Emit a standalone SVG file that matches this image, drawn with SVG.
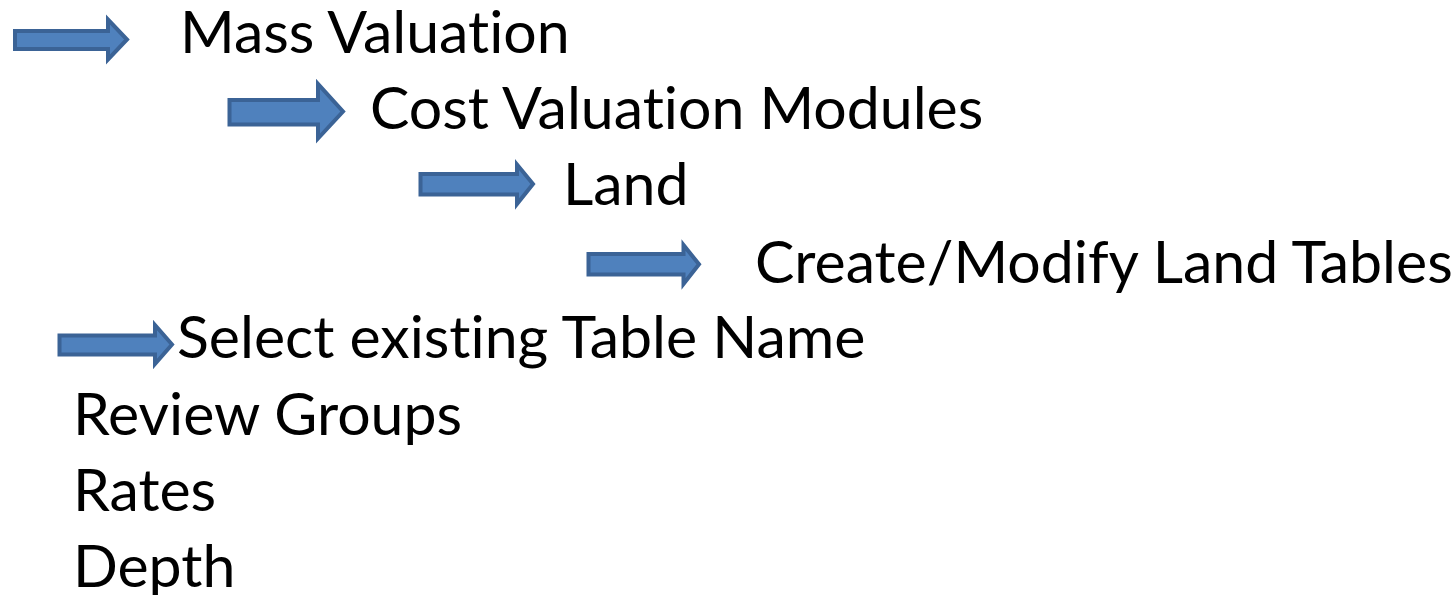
<svg xmlns="http://www.w3.org/2000/svg" width="1456" height="595" viewBox="0 0 1456 595">
<style>
.arrow{fill:#4F81BD;stroke:#3B6396;stroke-width:4;stroke-linejoin:miter}
.t{font-family:Lato,"Liberation Sans",sans-serif;font-size:59px;fill:#000;font-variant-ligatures:none}
</style>
<rect width="1456" height="595" fill="#fff"/>
<g id="connectors">
<path class="arrow" d="M15,31 H108 V19.5 L127,39.5 L108,59.5 V49 H15 Z"/>
<path class="arrow" d="M229.5,100 H318 V84 L343,111.5 L318,138.5 V124.5 H229.5 Z"/>
<path class="arrow" d="M420.5,174 H517 V164.5 L533,184 L517,204 V194.5 H420.5 Z"/>
<path class="arrow" d="M588.5,254 H683.5 V245 L699,264.3 L683.5,284 V274.5 H588.5 Z"/>
<path class="arrow" d="M59.5,335.5 H155 V325 L172,344.5 L155,364 V354.5 H59.5 Z"/>
</g>
<g id="n1"><text class="t" x="180" y="53">Mass Valuation</text></g>
<g id="n2"><text class="t" x="370" y="129">Cost Valuation Modules</text></g>
<g id="n3"><text class="t" x="563" y="205">Land</text></g>
<g id="n4"><text class="t" x="755" y="283">Create/Modify Land Tables</text></g>
<g id="n5"><text class="t" x="177" y="358">Select existing Table Name</text></g>
<g id="n6"><text class="t" x="73" y="435">Review Groups</text></g>
<g id="n7"><text class="t" x="73" y="511">Rates</text></g>
<g id="n8"><text class="t" x="73" y="587">Depth</text></g>
</svg>
